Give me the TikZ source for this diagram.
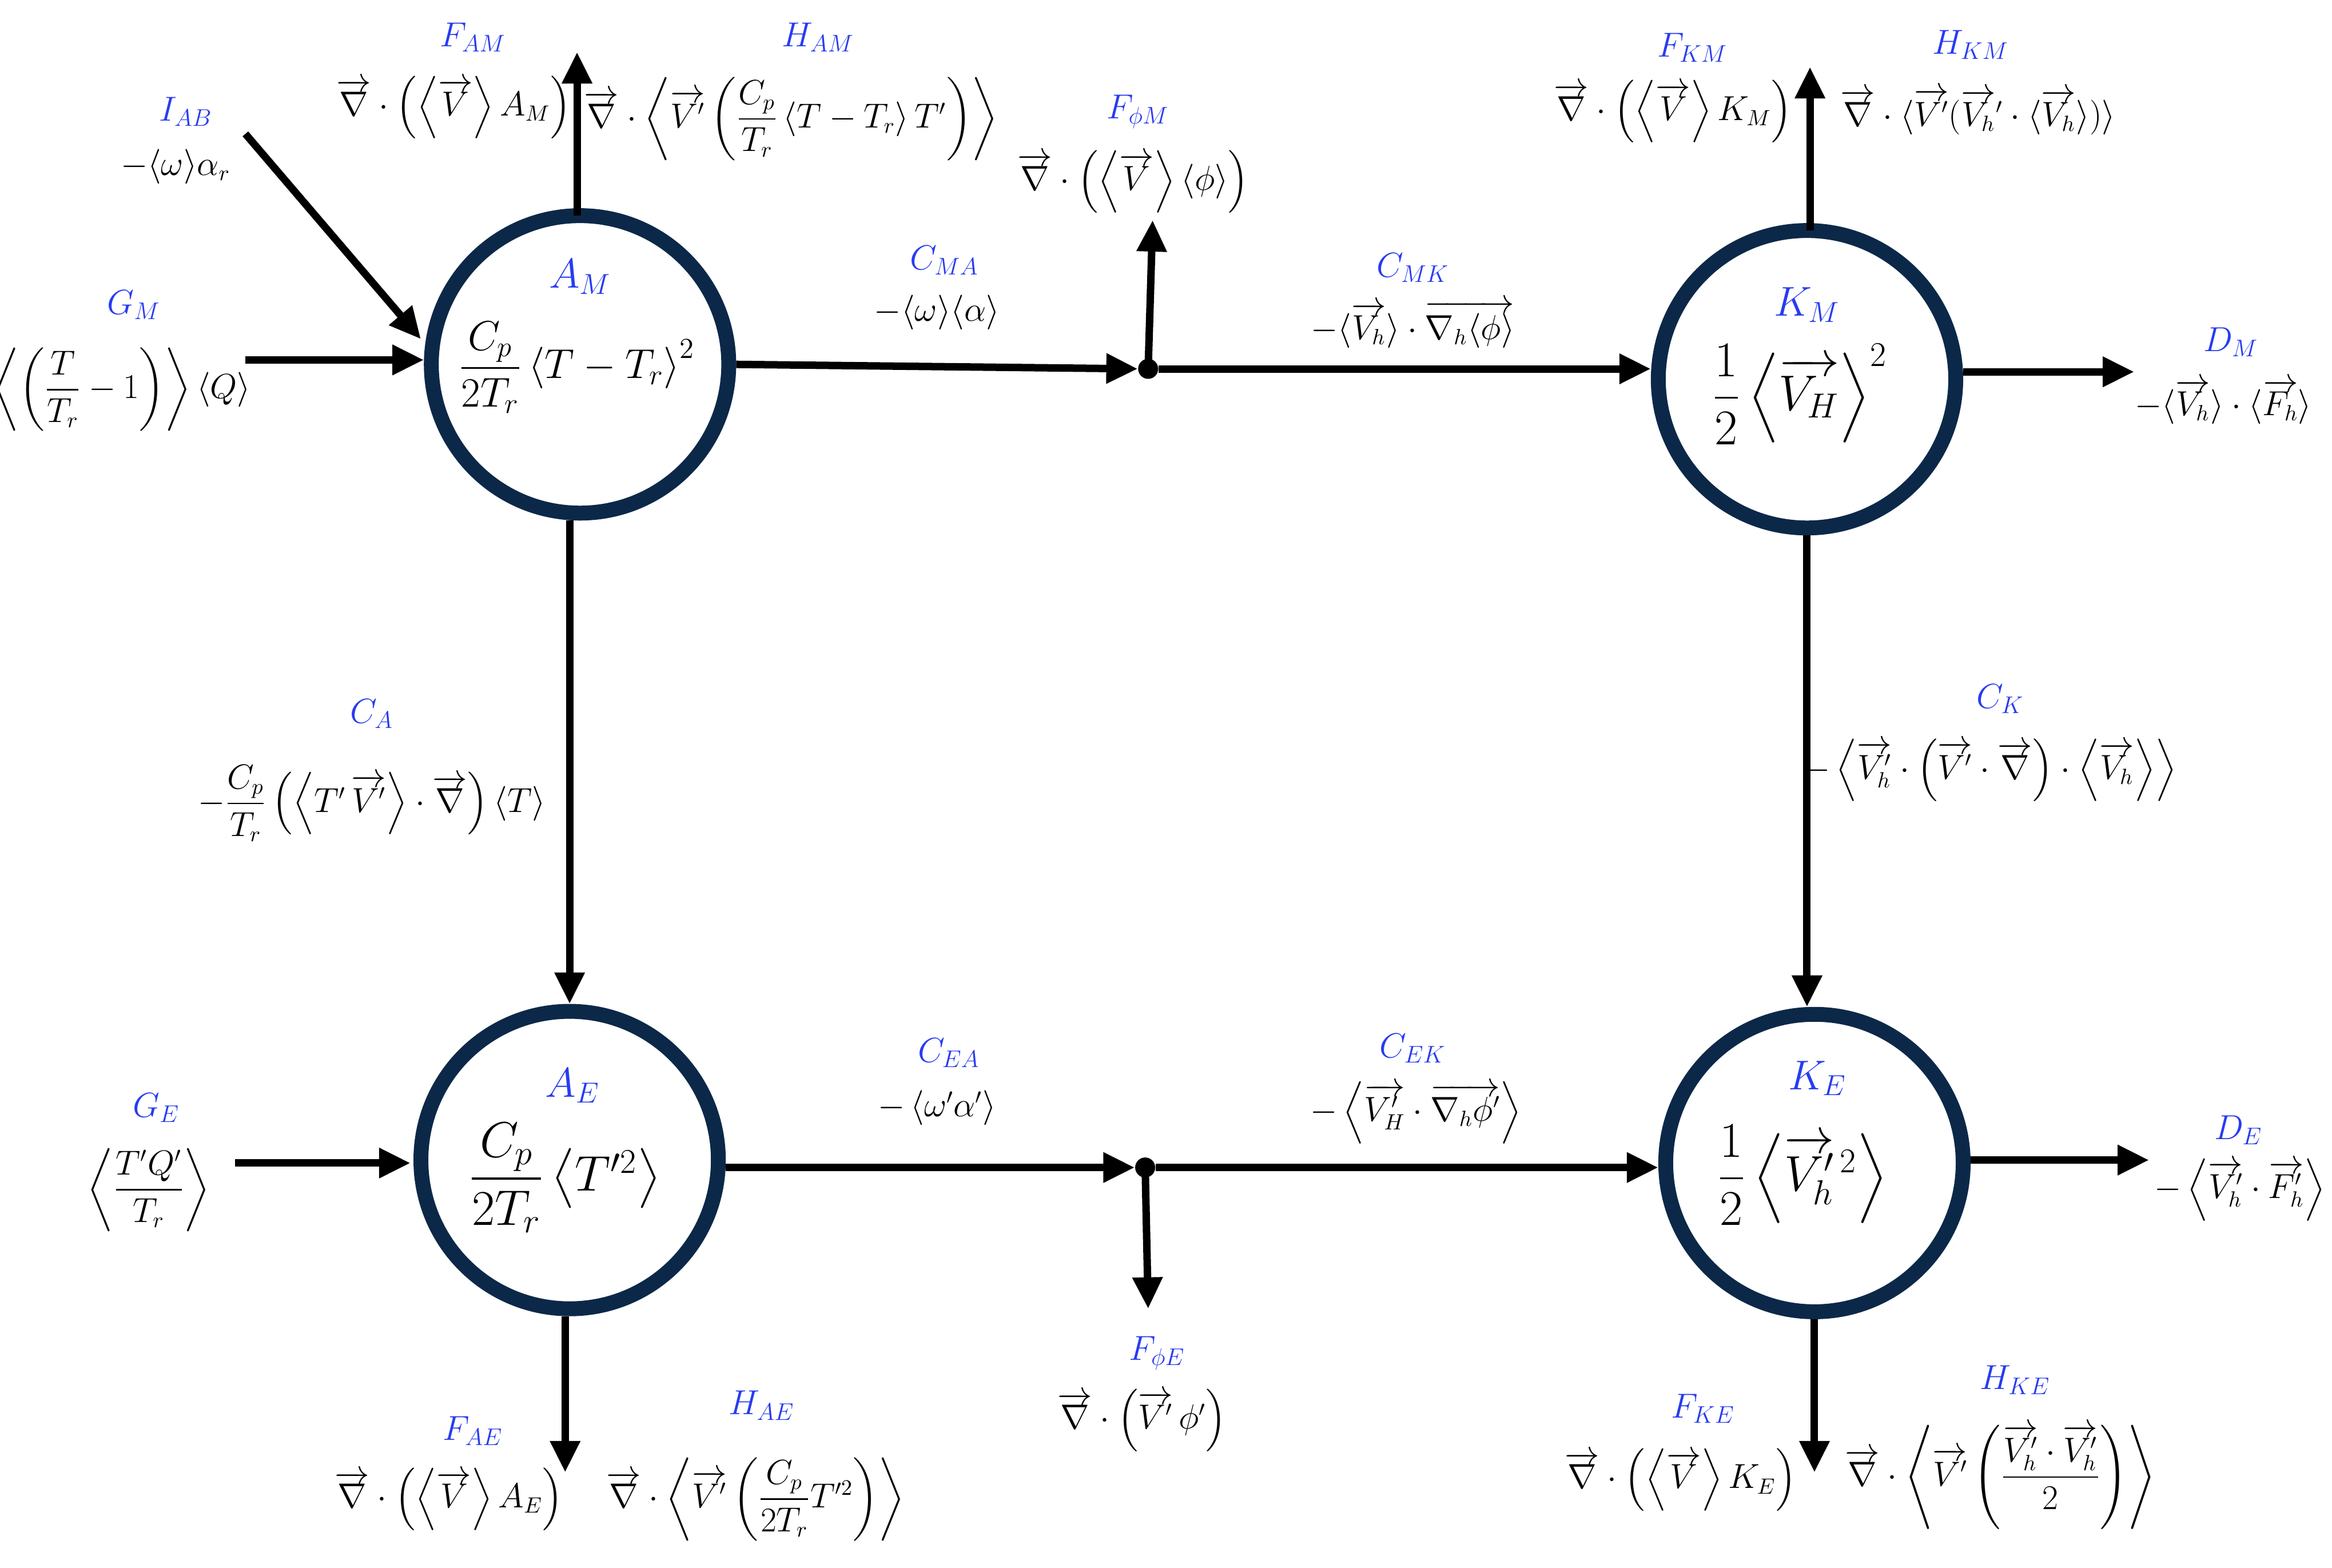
\documentclass[tikz,border=0pt]{standalone}
\usepackage{amsmath}
\usetikzlibrary{arrows.meta}
\definecolor{lblue}{RGB}{40,60,240}
\definecolor{navy}{RGB}{12,40,72}
\begin{document}
\begin{tikzpicture}[x=0.026cm,y=-0.026cm,
  circ/.style={circle,draw=navy,line width=0.26cm,minimum size=5.2cm,inner sep=0pt},
  arr/.style={line width=0.13cm,-{Triangle[length=0.55cm,width=0.5cm]}},
  lab/.style={text=lblue,font=\fontsize{17}{20}\selectfont\itshape,inner sep=1pt},
  clab/.style={text=lblue,font=\fontsize{22}{26}\selectfont\itshape,inner sep=1pt},
  fm/.style={font=\fontsize{16}{19}\selectfont,inner sep=1pt},
  big/.style={font=\fontsize{23}{27}\selectfont,inner sep=1pt},
  dot/.style={circle,fill=black,minimum size=0.35cm,inner sep=0pt}]
\useasboundingbox (0,0) rectangle (1568,1054);
% circles
\node[circ] (AM) at (390,245) {};
\node[circ] (KM) at (1215,255) {};
\node[circ] (AE) at (383,780) {};
\node[circ] (KE) at (1220,782) {};
\node[clab] (tAM) at (390,186) {$A_M$};
\node[big,font=\fontsize{20}{24}\selectfont] (fAM) at (388,247) {$\dfrac{C_p}{2T_r}\left\langle T-T_r\right\rangle^2$};
\node[clab] (tKM) at (1215,205) {$K_M$};
\node[big] (fKM) at (1210,265) {$\dfrac12\left\langle\overrightarrow{V_H}\right\rangle^2$};
\node[clab] (tAE) at (385,730) {$A_E$};
\node[big] (fAE) at (380,792) {$\dfrac{C_p}{2T_r}\left\langle T'^2\right\rangle$};
\node[clab] (tKE) at (1222,725) {$K_E$};
\node[big] (fKE) at (1212,790) {$\dfrac12\left\langle\overrightarrow{V_h'}^{\,2}\right\rangle$};
% dots and coordinates
\node[dot] (d1) at (772,248) {};
\node[dot] (d2) at (770,785) {};
\coordinate (AMt) at (388,145); \coordinate (AMup) at (388,35);
\coordinate (Is) at (165,90); \coordinate (Ie) at (283,228);
\coordinate (Gs) at (165,242); \coordinate (Ge) at (285,242);
\coordinate (d1u) at (775,148);
\coordinate (KMt) at (1217,155); \coordinate (KMup) at (1217,45);
\coordinate (DMe) at (1435,250);
\coordinate (GEs) at (158,782); \coordinate (GEe) at (276,782);
\coordinate (d2d) at (772,880);
\coordinate (DEe) at (1445,780);
\coordinate (AEd) at (380,990);
\coordinate (KEd) at (1220,990);
% connectors
\draw[arr] (AMt) -- (AMup);
\draw[arr] (Is) -- (Ie);
\draw[arr] (Gs) -- (Ge);
\draw[arr] (AM.east) -- (d1.west);
\draw[arr] (d1.center) -- (d1u);
\draw[arr] (d1.east) -- (KM.west|-d1);
\draw[arr] (KMt) -- (KMup);
\draw[arr] (KM.east|-DMe) -- (DMe);
\draw[arr] (AM.south-|AE.north) -- (AE.north);
\draw[arr] (KM.south) -- (KE.north-|KM.south);
\draw[arr] (GEs) -- (GEe);
\draw[arr] (AE.east|-d2) -- (d2.west);
\draw[arr] (d2.center) -- (d2d);
\draw[arr] (d2.east) -- (KE.west|-d2);
\draw[arr] (KE.east|-DEe) -- (DEe);
\draw[arr] (AE.south-|AEd) -- (AEd);
\draw[arr] (KE.south) -- (KEd);
% labels
\node[lab] (lFAM) at (318,25) {$F_{AM}$};
\node[fm] (eFAM) at (305,72) {$\overrightarrow{\nabla}\cdot\left(\left\langle\overrightarrow{V}\right\rangle A_M\right)$};
\node[lab] (lHAM) at (550,25) {$H_{AM}$};
\node[fm] (eHAM) at (532,80) {$\overrightarrow{\nabla}\cdot\left\langle\overrightarrow{V'}\left(\dfrac{C_p}{T_r}\left\langle T-T_r\right\rangle T'\right)\right\rangle$};
\node[lab] (lIAB) at (125,75) {$I_{AB}$};
\node[fm] (eIAB) at (118,112) {$-\langle\omega\rangle\alpha_r$};
\node[lab] (lGM) at (90,205) {$G_M$};
\node[fm] (eGM) at (82,262) {$\left\langle\left(\dfrac{T}{T_r}-1\right)\right\rangle\langle Q\rangle$};
\node[lab] (lCMA) at (635,175) {$C_{MA}$};
\node[fm] (eCMA) at (630,210) {$-\langle\omega\rangle\langle\alpha\rangle$};
\node[lab] (lFpM) at (765,75) {$F_{\phi M}$};
\node[fm] (eFpM) at (762,122) {$\overrightarrow{\nabla}\cdot\left(\left\langle\overrightarrow{V}\right\rangle\langle\phi\rangle\right)$};
\node[lab] (lCMK) at (950,180) {$C_{MK}$};
\node[fm] (eCMK) at (950,218) {$-\langle\overrightarrow{V_h}\rangle\cdot\overrightarrow{\nabla_h\langle\phi\rangle}$};
\node[lab] (lFKM) at (1138,32) {$F_{KM}$};
\node[fm] (eFKM) at (1125,75) {$\overrightarrow{\nabla}\cdot\left(\left\langle\overrightarrow{V}\right\rangle K_M\right)$};
\node[lab] (lHKM) at (1325,30) {$H_{KM}$};
\node[fm] (eHKM) at (1330,75) {$\overrightarrow{\nabla}\cdot\langle\overrightarrow{V'}(\overrightarrow{V_h}'\cdot\langle\overrightarrow{V_h}\rangle)\rangle$};
\node[lab] (lDM) at (1500,230) {$D_M$};
\node[fm] (eDM) at (1495,270) {$-\langle\overrightarrow{V_h}\rangle\cdot\langle\overrightarrow{F_h}\rangle$};
\node[lab] (lCA) at (250,480) {$C_A$};
\node[fm] (eCA) at (250,540) {$-\dfrac{C_p}{T_r}\left(\left\langle T'\,\overrightarrow{V'}\right\rangle\cdot\overrightarrow{\nabla}\right)\langle T\rangle$};
\node[lab] (lCK) at (1345,470) {$C_K$};
\node[fm] (eCK) at (1338,518) {$-\left\langle\overrightarrow{V_h'}\cdot\left(\overrightarrow{V'}\cdot\overrightarrow{\nabla}\right)\cdot\left\langle\overrightarrow{V_h}\right\rangle\right\rangle$};
\node[lab] (lGE) at (105,745) {$G_E$};
\node[fm] (eGE) at (100,800) {$\left\langle\dfrac{T'Q'}{T_r}\right\rangle$};
\node[lab] (lCEA) at (638,708) {$C_{EA}$};
\node[fm] (eCEA) at (630,745) {$-\left\langle\omega'\alpha'\right\rangle$};
\node[lab] (lFpE) at (778,910) {$F_{\phi E}$};
\node[fm] (eFpE) at (768,955) {$\overrightarrow{\nabla}\cdot\left(\overrightarrow{V'}\,\phi'\right)$};
\node[lab] (lCEK) at (950,705) {$C_{EK}$};
\node[fm] (eCEK) at (952,748) {$-\left\langle\overrightarrow{V_H'}\cdot\overrightarrow{\nabla_h\phi'}\right\rangle$};
\node[lab] (lDE) at (1505,760) {$D_E$};
\node[fm] (eDE) at (1506,800) {$-\left\langle\overrightarrow{V_h'}\cdot\overrightarrow{F_h'}\right\rangle$};
\node[lab] (lFAE) at (318,962) {$F_{AE}$};
\node[fm] (eFAE) at (302,1008) {$\overrightarrow{\nabla}\cdot\left(\left\langle\overrightarrow{V}\right\rangle A_E\right)$};
\node[lab] (lHAE) at (512,945) {$H_{AE}$};
\node[fm] (eHAE) at (508,1008) {$\overrightarrow{\nabla}\cdot\left\langle\overrightarrow{V'}\left(\dfrac{C_p}{2T_r}T'^2\right)\right\rangle$};
\node[lab] (lFKE) at (1145,947) {$F_{KE}$};
\node[fm] (eFKE) at (1130,995) {$\overrightarrow{\nabla}\cdot\left(\left\langle\overrightarrow{V}\right\rangle K_E\right)$};
\node[lab] (lHKE) at (1355,928) {$H_{KE}$};
\node[fm] (eHKE) at (1345,993) {$\overrightarrow{\nabla}\cdot\left\langle\overrightarrow{V'}\left(\dfrac{\overrightarrow{V_h'}\cdot\overrightarrow{V_h'}}{2}\right)\right\rangle$};
\end{tikzpicture}
\end{document}
